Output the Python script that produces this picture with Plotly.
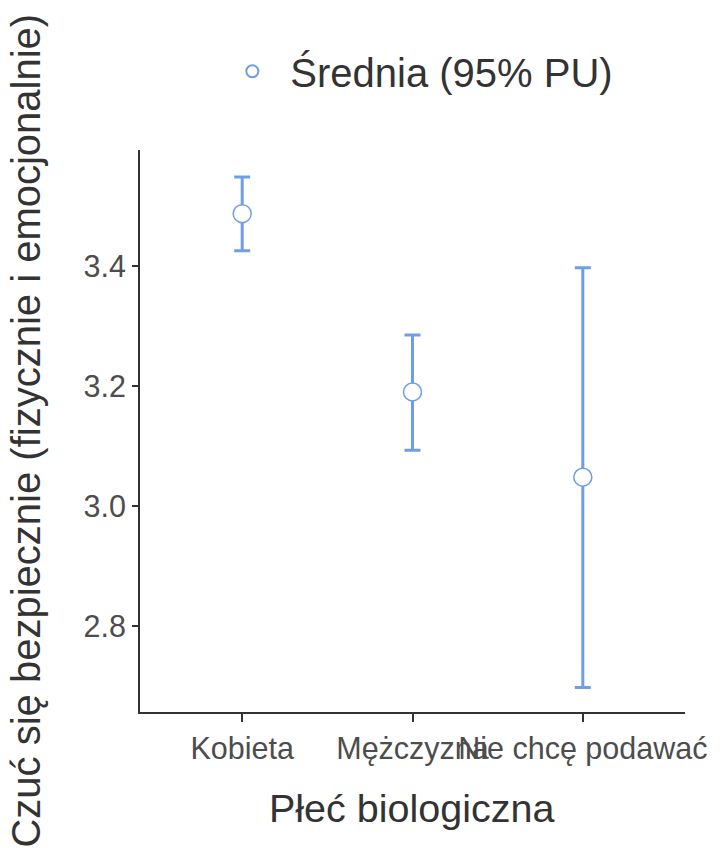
import plotly.graph_objects as go

categories = ["Kobieta", "Mężczyzna", "Nie chcę podawać"]
means = [3.487, 3.190, 3.048]
upper = [3.548, 3.285, 3.397]
lower = [3.425, 3.093, 2.698]
y_ticks = [2.8, 3.0, 3.2, 3.4]
y_tick_labels = ["2.8", "3.0", "3.2", "3.4"]
x_title = "Płeć biologiczna"
y_title = "Czuć się bezpiecznie (fizycznie i emocjonalnie)"
legend_name = "Średnia (95% PU)"

err_plus = [u - m for u, m in zip(upper, means)]
err_minus = [m - l for m, l in zip(means, lower)]

blue = "#6f9ee8"
font_family = "Liberation Sans, Arial, sans-serif"

fig = go.Figure()
fig.add_trace(go.Scatter(
    x=list(range(len(categories))),
    y=means,
    mode="markers",
    name=legend_name,
    marker=dict(symbol="circle", size=18, color="white",
                line=dict(color=blue, width=1.5)),
    error_y=dict(type="data", symmetric=False, array=err_plus,
                 arrayminus=err_minus, color=blue, thickness=3, width=8),
    showlegend=True,
))

fig.update_layout(
    width=723, height=848,
    margin=dict(l=132, r=46, t=142, b=144),
    paper_bgcolor="white", plot_bgcolor="white",
    font=dict(family=font_family, color="#333333"),
    showlegend=True,
    legend=dict(orientation="h", x=0.507, xanchor="center", y=1.14, yanchor="middle",
                font=dict(size=40, color="#333333"), itemsizing="constant",
                itemwidth=66),
    xaxis=dict(
        range=[-0.6, 2.6],
        tickmode="array",
        tickvals=list(range(len(categories))),
        ticktext=categories,
        tickangle=0,
        automargin=False,
        showline=True, linecolor="#333333", linewidth=1.8,
        ticks="outside", ticklen=8, tickwidth=1.8, tickcolor="#333333",
        showgrid=False, zeroline=False,
        tickfont=dict(size=30.5, color="#4d4d4d"),
    ),
    yaxis=dict(
        range=[2.657, 3.593],
        tickmode="array",
        tickvals=y_ticks,
        ticktext=y_tick_labels,
        automargin=False,
        showline=True, linecolor="#333333", linewidth=1.8,
        ticks="outside", ticklen=6, tickwidth=1.8, tickcolor="#333333",
        showgrid=False, zeroline=False,
        tickfont=dict(size=30.5, color="#4d4d4d"),
    ),
    annotations=[
        dict(text=x_title, xref="paper", yref="paper", x=0.499, y=-0.171,
             xanchor="center", yanchor="middle", showarrow=False,
             font=dict(size=39.5, color="#333333")),
        dict(text=y_title, xref="paper", yref="paper", x=-0.209, y=0.501,
             xanchor="center", yanchor="middle", showarrow=False, textangle=-90,
             font=dict(size=40, color="#333333")),
    ],
)

fig.write_html("out.html")
